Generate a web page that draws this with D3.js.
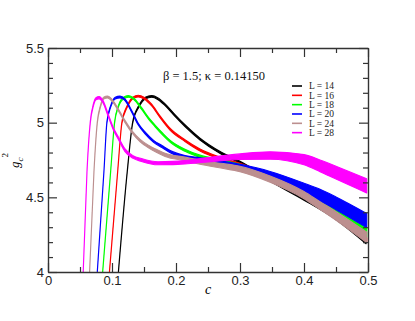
<html lang="en">
  <head>
    <meta charset="utf-8">
    <title>g_c^2 vs c</title>
    <script src="https://d3js.org/d3.v7.min.js"></script>
    <style>
      body { margin: 0; background: #fff; }
    </style>
  </head>
  <body>
    <script type="text/javascript">
      var w = 415;
      var h = 321;
      var margin = {top: 48, right: 47, bottom: 49, left: 48};
      var innerWidth = w - margin.left - margin.right;
      var innerHeight = h - margin.top - margin.bottom;

      // series labels and colours (legend order)
      var sizes = [14, 16, 18, 20, 24, 28];
      var colors = ["#000000", "#ff0000", "#00ff00", "#0000ff", "#bc8f8f", "#ff00ff"];

      // c, g_c^2 (band centre) and band thickness
      var cL14 = [0.110, 0.124, 0.1323, 0.142, 0.152, 0.162, 0.172, 0.183, 0.198, 0.214, 0.2375, 0.269, 0.300, 0.347, 0.400, 0.450, 0.497];
      var gL14 = [4.00, 4.68, 5.00, 5.11, 5.165, 5.176, 5.16, 5.12, 5.05, 4.98, 4.89, 4.80, 4.735, 4.615, 4.49, 4.36, 4.20];
      var eL14 = [0.010, 0.010, 0.010, 0.012, 0.012, 0.012, 0.012, 0.012, 0.012, 0.012, 0.012, 0.013, 0.014, 0.016, 0.018, 0.020, 0.022];

      var cL16 = [0.096, 0.109, 0.1155, 0.124, 0.1325, 0.141, 0.150, 0.162, 0.175, 0.191, 0.214, 0.2375, 0.270, 0.300, 0.347, 0.400, 0.450, 0.498];
      var gL16 = [4.00, 4.68, 5.00, 5.11, 5.165, 5.178, 5.165, 5.118, 5.04, 4.955, 4.88, 4.817, 4.76, 4.72, 4.64, 4.515, 4.375, 4.215];
      var eL16 = [0.010, 0.010, 0.010, 0.012, 0.012, 0.012, 0.012, 0.012, 0.012, 0.012, 0.012, 0.013, 0.014, 0.016, 0.020, 0.024, 0.027, 0.030];

      var cL18 = [0.0854, 0.098, 0.104, 0.110, 0.118, 0.1255, 0.134, 0.146, 0.157, 0.167, 0.180, 0.191, 0.214, 0.2375, 0.270, 0.300, 0.347, 0.400, 0.450, 0.498];
      var gL18 = [4.00, 4.68, 5.00, 5.11, 5.165, 5.176, 5.16, 5.096, 5.03, 4.98, 4.92, 4.875, 4.815, 4.775, 4.742, 4.71, 4.635, 4.525, 4.39, 4.265];
      var eL18 = [0.010, 0.010, 0.010, 0.012, 0.012, 0.012, 0.012, 0.012, 0.012, 0.012, 0.013, 0.013, 0.014, 0.015, 0.018, 0.022, 0.030, 0.040, 0.050, 0.060];

      var cL20 = [0.077, 0.0875, 0.092, 0.098, 0.105, 0.1125, 0.120, 0.131, 0.141, 0.152, 0.165, 0.178, 0.191, 0.214, 0.2375, 0.270, 0.300, 0.347, 0.400, 0.425, 0.450, 0.498];
      var gL20 = [4.00, 4.68, 5.00, 5.11, 5.165, 5.172, 5.155, 5.074, 4.99, 4.93, 4.875, 4.84, 4.806, 4.772, 4.757, 4.735, 4.71, 4.657, 4.565, 4.515, 4.46, 4.345];
      var eL20 = [0.010, 0.010, 0.010, 0.012, 0.012, 0.012, 0.012, 0.012, 0.012, 0.012, 0.013, 0.013, 0.014, 0.015, 0.016, 0.018, 0.022, 0.033, 0.060, 0.078, 0.085, 0.094];

      var cL24 = [0.065, 0.0719, 0.077, 0.082, 0.087, 0.093, 0.100, 0.110, 0.120, 0.131, 0.144, 0.157, 0.170, 0.183, 0.214, 0.2375, 0.270, 0.300, 0.347, 0.400, 0.425, 0.450, 0.498];
      var gL24 = [4.00, 4.68, 5.00, 5.11, 5.165, 5.172, 5.15, 5.085, 5.01, 4.94, 4.88, 4.84, 4.81, 4.784, 4.757, 4.735, 4.712, 4.69, 4.622, 4.515, 4.445, 4.375, 4.232];
      var eL24 = [0.010, 0.010, 0.010, 0.012, 0.012, 0.013, 0.013, 0.014, 0.014, 0.015, 0.016, 0.018, 0.020, 0.021, 0.024, 0.027, 0.032, 0.036, 0.042, 0.048, 0.052, 0.058, 0.070];

      var cL28 = [0.055, 0.061, 0.066, 0.071, 0.075, 0.0797, 0.086, 0.094, 0.102, 0.110, 0.120, 0.133, 0.146, 0.172, 0.195, 0.214, 0.250, 0.300, 0.347, 0.400, 0.425, 0.450, 0.498];
      var gL28 = [4.00, 4.68, 5.00, 5.12, 5.16, 5.167, 5.14, 5.05, 4.96, 4.895, 4.817, 4.77, 4.75, 4.728, 4.73, 4.735, 4.752, 4.772, 4.78, 4.752, 4.711, 4.665, 4.577];
      var eL28 = [0.012, 0.012, 0.012, 0.014, 0.014, 0.015, 0.015, 0.016, 0.016, 0.017, 0.018, 0.018, 0.019, 0.020, 0.022, 0.024, 0.030, 0.038, 0.049, 0.068, 0.078, 0.086, 0.095];

      var xTicks = [0, 0.1, 0.2, 0.3, 0.4, 0.5];
      var xMinor = [0.05, 0.15, 0.25, 0.35, 0.45];
      var yTicks = [4, 4.5, 5, 5.5];
      var yMinor = [4.1, 4.2, 4.3, 4.4, 4.6, 4.7, 4.8, 4.9, 5.1, 5.2, 5.3, 5.4];

      var allC = [cL14, cL16, cL18, cL20, cL24, cL28];
      var allG = [gL14, gL16, gL18, gL20, gL24, gL28];
      var allE = [eL14, eL16, eL18, eL20, eL24, eL28];

      var series = sizes.map(function(L, i) {
        return {
          L: L,
          color: colors[i],
          points: allC[i].map(function(c, j) {
            return {c: c, g: allG[i][j], e: allE[i][j]};
          })
        };
      });

      var xScale = d3.scaleLinear().domain([0, 0.5]).range([0, innerWidth]);
      var yScale = d3.scaleLinear().domain([4, 5.5]).range([innerHeight, 0]);

      var svg = d3.select("body")
          .append("svg")
          .attr("width", w)
          .attr("height", h)
          .style("display", "block");

      svg.append("defs").append("clipPath")
          .attr("id", "plotclip")
        .append("rect")
          .attr("width", innerWidth)
          .attr("height", innerHeight);

      var g = svg.append("g")
          .attr("transform", `translate(${margin.left},${margin.top})`);

      var band = d3.area()
          .curve(d3.curveMonotoneX)
          .x(function(d) { return xScale(d.c); })
          .y0(function(d) { return yScale(d.g - d.e / 2); })
          .y1(function(d) { return yScale(d.g + d.e / 2); });

      g.append("g")
          .attr("clip-path", "url(#plotclip)")
        .selectAll("path")
          .data(series)
          .enter()
          .append("path")
          .attr("d", function(d) { return band(d.points); })
          .attr("fill", function(d) { return d.color; })
          .attr("stroke", function(d) { return d.color; })
          .attr("stroke-width", 1.1)
          .attr("stroke-linejoin", "round");

      // axes, ticks pointing inwards on all four sides
      var tickFont = "'Liberation Sans', Arial, sans-serif";
      function styleAxis(sel) {
        sel.selectAll("path.domain").attr("stroke", "#333").attr("stroke-width", 1.4);
        sel.selectAll("line").attr("stroke", "#333").attr("stroke-width", 1.2);
        sel.selectAll("text").attr("font-family", tickFont).attr("font-size", 13).attr("fill", "#222");
      }
      function tickOnly(sel) {
        sel.call(styleAxis);
        sel.selectAll("text").remove();
      }

      var xAxis = d3.axisBottom(xScale).tickValues(xTicks)
          .tickFormat(d3.format("~g")).tickSizeInner(-9).tickSizeOuter(0).tickPadding(4);
      var yAxis = d3.axisLeft(yScale).tickValues(yTicks)
          .tickFormat(d3.format("~g")).tickSizeInner(-9).tickSizeOuter(0).tickPadding(4);

      g.append("g").attr("transform", `translate(0,${innerHeight})`).call(xAxis).call(styleAxis);
      g.append("g").call(yAxis).call(styleAxis);
      g.append("g").call(d3.axisTop(xScale).tickValues(xTicks).tickSizeInner(-9).tickSizeOuter(0)).call(tickOnly);
      g.append("g").attr("transform", `translate(${innerWidth},0)`)
          .call(d3.axisRight(yScale).tickValues(yTicks).tickSizeInner(-9).tickSizeOuter(0)).call(tickOnly);

      g.append("g").attr("transform", `translate(0,${innerHeight})`)
          .call(d3.axisBottom(xScale).tickValues(xMinor).tickSize(-5)).call(tickOnly)
          .select("path.domain").remove();
      g.append("g")
          .call(d3.axisTop(xScale).tickValues(xMinor).tickSize(-5)).call(tickOnly)
          .select("path.domain").remove();
      g.append("g")
          .call(d3.axisLeft(yScale).tickValues(yMinor).tickSize(-5)).call(tickOnly)
          .select("path.domain").remove();
      g.append("g").attr("transform", `translate(${innerWidth},0)`)
          .call(d3.axisRight(yScale).tickValues(yMinor).tickSize(-5)).call(tickOnly)
          .select("path.domain").remove();

      // axis titles
      var serif = "'Liberation Serif', 'Times New Roman', serif";
      svg.append("text")
          .attr("x", 208)
          .attr("y", 294)
          .attr("text-anchor", "middle")
          .attr("font-family", serif)
          .attr("font-style", "italic")
          .attr("font-size", 14)
          .text("c");

      var ylab = svg.append("text")
          .attr("transform", "translate(19,168) rotate(-90)")
          .attr("font-family", serif)
          .attr("font-size", 13);
      ylab.append("tspan").attr("font-style", "italic").text("g");
      ylab.append("tspan").attr("font-style", "italic").attr("font-size", 9).attr("dy", 4).text("c");
      ylab.append("tspan").attr("font-size", 9).attr("dy", -15).text("2");

      svg.append("text")
          .attr("x", 214)
          .attr("y", 80)
          .attr("text-anchor", "middle")
          .attr("font-family", serif)
          .attr("font-size", 12.5)
          .attr("fill", "#111")
          .text("\u03b2 = 1.5; \u03ba = 0.14150");

      // legend
      var legend = svg.append("g").attr("transform", "translate(292,86)");
      var rows = legend.selectAll("g")
          .data(series)
          .enter()
          .append("g")
          .attr("transform", function(d, i) { return `translate(0,${i * 9.33})`; });
      rows.append("line")
          .attr("x1", 0).attr("x2", 10)
          .attr("stroke", function(d) { return d.color; })
          .attr("stroke-width", 1.6);
      rows.append("text")
          .attr("x", 17)
          .attr("y", 3.2)
          .attr("font-family", serif)
          .attr("font-size", 9.5)
          .attr("fill", "#222")
          .text(function(d) { return "L = " + d.L; });
    </script>
  </body>
</html>
